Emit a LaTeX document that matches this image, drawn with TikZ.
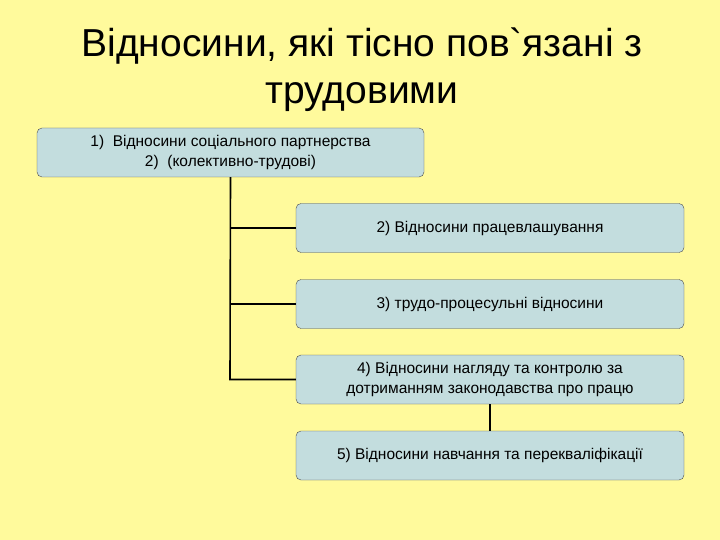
\documentclass[tikz,border=0pt]{standalone}
\usepackage{fontspec}
\setmainfont{Liberation Sans}
\newfontfamily\plainfnt{Liberation Sans}
\begin{document}
\begin{tikzpicture}[x=1pt,y=-1pt,
 box/.style={draw=black!70,fill=bx,rounded corners=5pt,minimum width=388pt,minimum height=49pt,align=center,font=\fontsize{15.5}{20}\selectfont,inner sep=2pt},
 ln/.style={line width=1.6pt}]
\definecolor{bg}{HTML}{FFFA9C}
\definecolor{bx}{HTML}{C3DDDE}
\fill[bg] (0,0) rectangle (720,540);
\useasboundingbox (0,0) rectangle (720,540);
\node[font=\fontsize{39}{47}\selectfont,align=center] (t) at (362,70) {Відносини, які тісно пов{\plainfnt`}язані з\\трудовими};
\node[box,minimum width=387pt] (a) at (230.5,152.5) {1)\ \ Відносини соціального партнерства\\2)\ \ (колективно-трудові)};
\node[box] (b) at (490,228) {2) Відносини працевлашування};
\node[box] (c) at (490,304) {3) трудо-процесульні відносини};
\node[box] (d) at (490,379.5) {4) Відносини нагляду та контролю за\\дотриманням законодавства про працю};
\node[box] (e) at (490,455.5) {5) Відносини навчання та перекваліфікації};
\coordinate (j) at (230,379.5);
\draw[ln] (a.south) -- (j) -- (d.west);
\draw[ln] (a.south |- b.west) -- (b.west);
\draw[ln] (a.south |- c.west) -- (c.west);
\draw[ln] (d.south) -- (e.north);
\end{tikzpicture}
\end{document}
